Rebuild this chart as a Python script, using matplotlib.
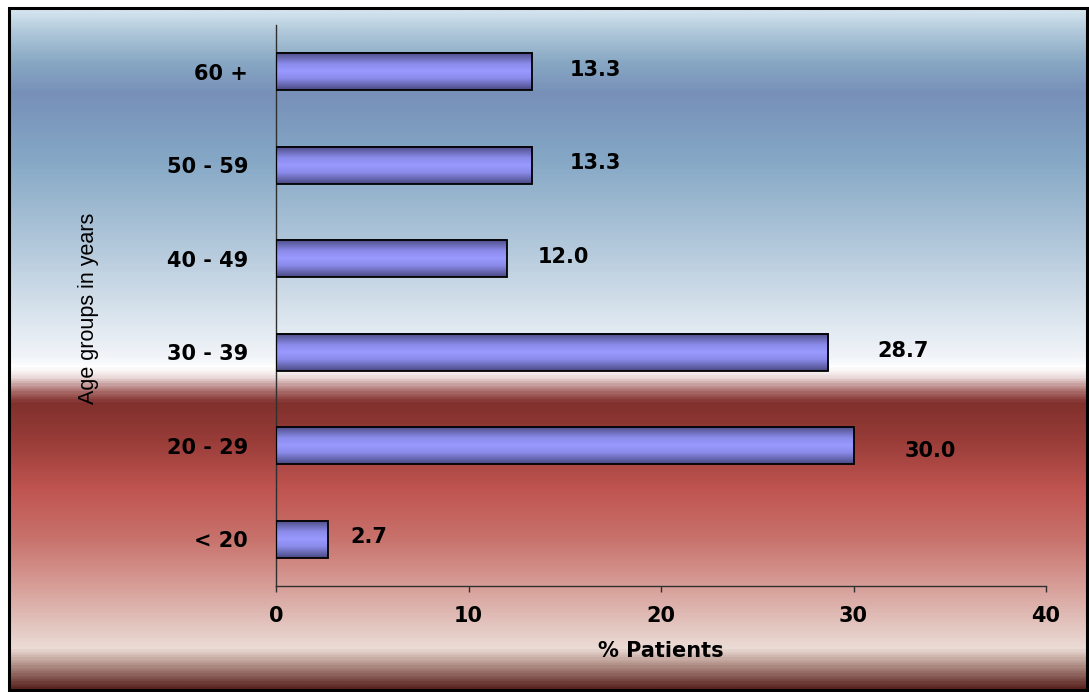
import numpy as np
import matplotlib
matplotlib.use("Agg")
import matplotlib.pyplot as plt
from matplotlib.colors import LinearSegmentedColormap
from matplotlib.patches import Rectangle

# Age groups (bottom to top) and share of patients in %
age_groups = ["< 20", "20 - 29", "30 - 39", "40 - 49", "50 - 59", "60 +"]
pct_patients = [2.7, 30.0, 28.7, 12.0, 13.3, 13.3]
x_ticks = [0, 10, 20, 30, 40]

# label placement tweaks in pixels (dx from bar end, dy from bar centre)
label_dx = [22, 51, 49, 31, 38, 38]
label_dy = [2, -5, 1, 2, 2, 2]

W, H = 1089, 692
fig = plt.figure(figsize=(W / 100, H / 100), dpi=100)

# background: vertical band gradient inside a black frame
bg = fig.add_axes([0, 0, 1, 1], zorder=-1)
bg.set_xlim(0, W)
bg.set_ylim(H, 0)
bg.axis("off")

fx0, fy0, fx1, fy1 = 9, 8, 1087, 690
stops = [
    (8, "#d6e6f0"), (30, "#b0c8da"), (60, "#88a8c4"), (92, "#7890b8"),
    (110, "#7a96bc"), (160, "#86a8c6"), (250, "#b5cadc"), (320, "#dde6ef"),
    (358, "#f2f5f9"), (367, "#ffffff"), (376, "#f0e4e4"), (392, "#a86a68"),
    (403, "#80302c"), (440, "#983c38"), (490, "#c05450"), (540, "#c8726c"),
    (590, "#d8a09a"), (630, "#e4c8c2"), (650, "#ecdcd6"), (665, "#b89890"),
    (690, "#5a2420"),
]
span = fy1 - fy0
bg_cmap = LinearSegmentedColormap.from_list(
    "bg", [(min(max((y - fy0) / span, 0), 1), c) for y, c in stops])
grad = np.linspace(0, 1, 600).reshape(-1, 1)
bg.imshow(grad, cmap=bg_cmap, aspect="auto", extent=(fx0, fx1, fy1, fy0),
          interpolation="bilinear")
bg.add_patch(Rectangle((fx0, fy0), fx1 - fx0, fy1 - fy0, fill=False,
                       edgecolor="black", linewidth=2.2))

# main chart
ax = fig.add_axes([276 / W, 1 - 586 / H, (1046 - 276) / W, (586 - 25) / H])
ax.set_facecolor("none")

ypos = np.arange(len(age_groups))
bars = ax.barh(ypos, pct_patients, height=0.4, color="none",
               edgecolor="black", linewidth=1.3, zorder=3)

bar_cmap = LinearSegmentedColormap.from_list(
    "bar", [(0, "#4a4a82"), (0.3, "#8a8aea"), (0.5, "#9a9aff"),
            (0.7, "#8a8aea"), (1, "#4a4a82")])
bar_grad = np.linspace(0, 1, 100).reshape(-1, 1)
for b in bars:
    x0, y0, w, h = b.get_x(), b.get_y(), b.get_width(), b.get_height()
    ax.imshow(bar_grad, cmap=bar_cmap, aspect="auto",
              extent=(x0, x0 + w, y0, y0 + h), zorder=2,
              interpolation="bilinear")

for i, v in enumerate(pct_patients):
    ax.annotate(f"{v:.1f}", xy=(v, ypos[i]),
                xytext=(label_dx[i] * 0.72, label_dy[i] * 0.72),
                textcoords="offset points", ha="left", va="center",
                fontsize=15, fontweight="bold", family="DejaVu Sans")

ax.set_xlim(0, 40)
ax.set_ylim(-0.5, len(age_groups) - 0.5)
ax.set_xticks(x_ticks)
ax.set_yticks(ypos)
ax.set_yticklabels(age_groups)

for lbl in ax.get_xticklabels() + ax.get_yticklabels():
    lbl.set_fontweight("bold")
    lbl.set_fontsize(15)
    lbl.set_family("DejaVu Sans")

ax.tick_params(axis="x", length=4.5, width=1, color="#303030",
               direction="out", pad=10)
ax.tick_params(axis="y", length=0, pad=20)
for side in ("top", "right"):
    ax.spines[side].set_visible(False)
for side in ("left", "bottom"):
    ax.spines[side].set_color("#303030")
    ax.spines[side].set_linewidth(1)

ax.set_xlabel("% Patients", fontsize=15, fontweight="bold",
              family="DejaVu Sans", labelpad=11)
fig.text(88 / W, 1 - 308 / H, "Age groups in years", rotation=90,
         ha="center", va="center", fontsize=15.5, family="Liberation Sans")

fig.savefig("out.png", dpi=100)
